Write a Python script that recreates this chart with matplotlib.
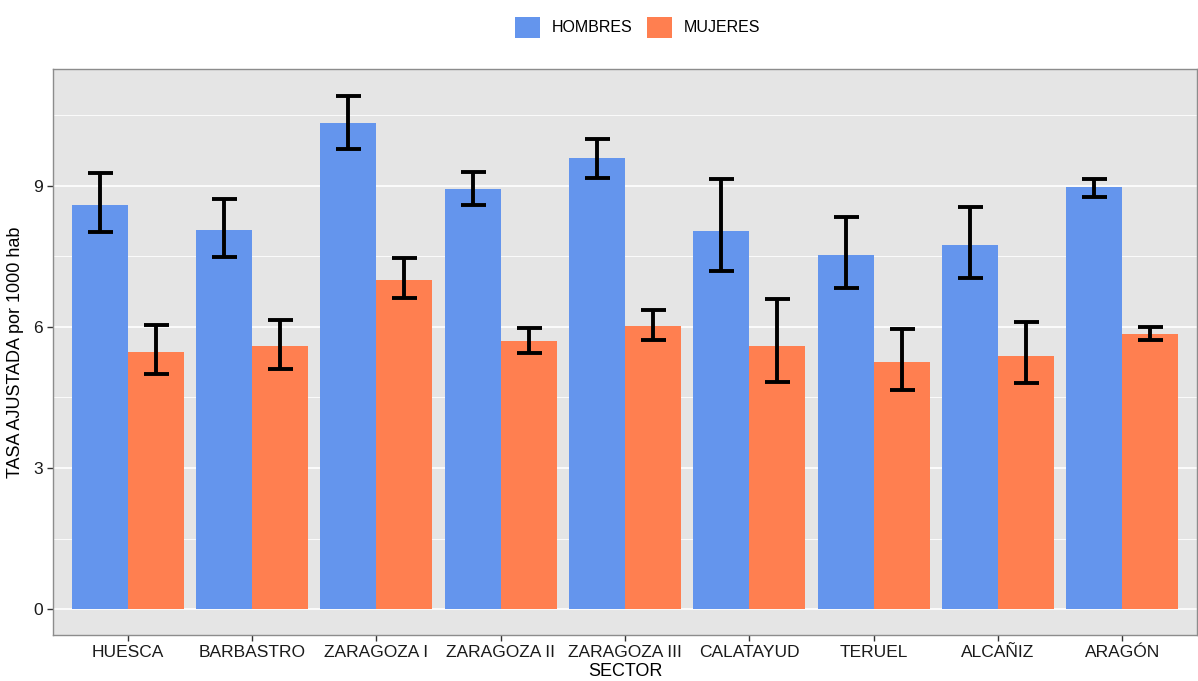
import matplotlib.pyplot as plt
import numpy as np
from matplotlib.ticker import MultipleLocator
from matplotlib.patches import Patch

plt.rcParams['font.family'] = ['Liberation Sans', 'DejaVu Sans']

sectores = ['HUESCA', 'BARBASTRO', 'ZARAGOZA I', 'ZARAGOZA II', 'ZARAGOZA III',
            'CALATAYUD', 'TERUEL', 'ALCAÑIZ', 'ARAGÓN']

hombres = [8.60, 8.05, 10.33, 8.94, 9.58, 8.03, 7.52, 7.73, 8.97]
hombres_lo = [8.01, 7.48, 9.79, 8.58, 9.17, 7.18, 6.82, 7.03, 8.77]
hombres_hi = [9.28, 8.71, 10.91, 9.30, 10.00, 9.15, 8.33, 8.54, 9.15]

mujeres = [5.47, 5.59, 6.99, 5.70, 6.02, 5.59, 5.25, 5.38, 5.85]
mujeres_lo = [5.00, 5.11, 6.61, 5.44, 5.72, 4.83, 4.66, 4.81, 5.72]
mujeres_hi = [6.04, 6.14, 7.46, 5.97, 6.36, 6.59, 5.95, 6.10, 6.00]

c_h = '#6495ED'
c_m = '#FF7F50'

fig = plt.figure(figsize=(11.98, 6.81), dpi=100)
ax = fig.add_axes([53 / 1198, 46 / 681, 1144 / 1198, 566 / 681])
ax.set_facecolor('#E5E5E5')

x = np.arange(1, len(sectores) + 1)
w = 0.45


def _bars(pos, vals, lo, hi, color):
    ax.bar(pos, vals, width=w, color=color, zorder=2)
    vals = np.array(vals)
    yerr = [vals - np.array(lo), np.array(hi) - vals]
    ax.errorbar(pos, vals, yerr=yerr, fmt='none', ecolor='black',
                elinewidth=2.8, capsize=9, capthick=2.8, zorder=3)


_bars(x - w / 2, hombres, hombres_lo, hombres_hi, c_h)
_bars(x + w / 2, mujeres, mujeres_lo, mujeres_hi, c_m)

ax.set_xlim(0.4, 9.6)
ax.set_ylim(-0.55, 11.48)
ax.set_xticks(x)
ax.set_xticklabels(sectores)
ax.yaxis.set_major_locator(MultipleLocator(3))
ax.yaxis.set_minor_locator(MultipleLocator(1.5))
ax.grid(which='major', axis='y', color='white', linewidth=1.2, zorder=0)
ax.grid(which='minor', axis='y', color='white', linewidth=0.6, zorder=0)
ax.set_axisbelow(True)
ax.tick_params(axis='y', which='minor', length=0)
ax.tick_params(which='major', length=4, color='#333333', labelsize=12.5,
               labelcolor='#1a1a1a', width=1)
for s in ax.spines.values():
    s.set_color('#8c8c8c')
    s.set_linewidth(1)

ax.set_xlabel('SECTOR', fontsize=13, labelpad=2, color='black')
ax.set_ylabel('TASA AJUSTADA por 1000 hab', fontsize=13, labelpad=6, color='black')

handles = [Patch(facecolor=c_h, label='HOMBRES'), Patch(facecolor=c_m, label='MUJERES')]
fig.legend(handles=handles, loc='center', bbox_to_anchor=(0.532, 0.96), ncol=2,
           frameon=False, fontsize=11.5, handlelength=1.6, handleheight=1.6,
           handletextpad=0.7, columnspacing=0.9)

fig.savefig('out.png', dpi=100)
